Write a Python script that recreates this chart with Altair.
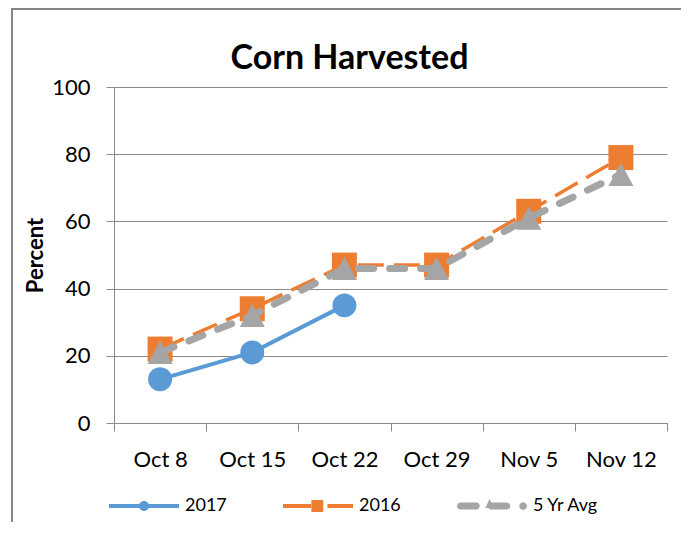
import altair as alt
import pandas as pd

weeks = ["Oct 8", "Oct 15", "Oct 22", "Oct 29", "Nov 5", "Nov 12"]
series_names = ["2017", "2016", "5 Yr Avg"]
pct_2017 = [13, 21, 35]
pct_2016 = [22, 34, 47, 47, 63, 79]
pct_avg = [21, 32, 46, 46, 61, 74]
colors = ["#5B9BD5", "#ED7D31", "#A5A5A5"]
y_ticks = [0, 20, 40, 60, 80, 100]

rows = []
for s, vals in zip(series_names, [pct_2017, pct_2016, pct_avg]):
    for w, v in zip(weeks, vals):
        rows.append({"week": w, "series": s, "pct": v})
df = pd.DataFrame(rows)


def pill(x0, x1, h=0.1):
    return (f"M{x0+h},{-h}L{x1-h},{-h}A{h},{h} 0 0,1 {x1-h},{h}"
            f"L{x0+h},{h}A{h},{h} 0 0,1 {x0+h},{-h}Z")


def circ(cx, r):
    return (f"M{cx-r},0A{r},{r} 0 1,1 {cx+r},0A{r},{r} 0 1,1 {cx-r},0Z")


def bar(x0, x1, h=0.057):
    return f"M{x0},{-h}L{x1},{-h}L{x1},{h}L{x0},{h}Z"


path_2017 = bar(-1, 1) + circ(0, 0.143)
path_2016 = bar(-1, -0.2) + "M-0.19,-0.17L0.15,-0.17L0.15,0.17L-0.19,0.17Z" + bar(0.27, 1)
path_avg = (pill(-1.0, -0.35) + pill(-0.12, 0.52)
            + "M-0.07,-0.2L0.05,0.06L-0.19,0.06Z" + circ(0.89, 0.11))
legend_paths = [path_2017, path_2016, path_avg]
tri_path = "M0,-0.93L1,0.93L-1,0.93Z"

GRAY = "#8a8a8a"
FONT = "Lato"

x_enc = alt.X(
    "week:O", sort=weeks,
    scale=alt.Scale(type="band", domain=weeks, paddingInner=0, paddingOuter=0),
    axis=alt.Axis(title=None, labelAngle=0, labelFont=FONT, labelFontSize=22,
                  labelColor="#000", labelBaseline="alphabetic", labelPadding=35,
                  tickSize=8, tickColor=GRAY, domainColor=GRAY, tickBand="extent",
                  grid=False),
)
y_enc = alt.Y(
    "pct:Q", scale=alt.Scale(domain=[0, 100], nice=False),
    axis=alt.Axis(values=y_ticks, title="Percent", titleFont=FONT, titleFontSize=22,
                  titleFontWeight="bold", titleColor="#000", titleX=-72, titleY=168,
                  titleAngle=270, titleBaseline="alphabetic",
                  labelFont=FONT, labelFontSize=22, labelColor="#000", labelPadding=16,
                  tickSize=8, tickColor=GRAY, domainColor=GRAY, gridColor=GRAY,
                  grid=True),
)

base = alt.Chart(df)

frame = alt.Chart(pd.DataFrame({"f": [0]})).mark_rect(
    fillOpacity=0, stroke="#878787", strokeWidth=2
).encode(x=alt.value(-102), x2=alt.value(569), y=alt.value(-78), y2=alt.value(700))


def series_layers(name, color, width, marker_shape, marker_size, dash=None, cap="butt"):
    line_kw = dict(color=color, strokeWidth=width, strokeCap=cap)
    if dash is not None:
        line_kw["strokeDash"] = dash
    f = base.transform_filter(alt.datum.series == name)
    line = f.mark_line(**line_kw).encode(x=x_enc, y=y_enc)
    pts = f.mark_point(filled=True, shape=marker_shape, size=marker_size, color=color,
                       opacity=1, strokeWidth=0).encode(x=x_enc, y=y_enc)
    return [line, pts]


layers = []
layers += series_layers("2017", colors[0], 4, "circle", 573)
layers += series_layers("2016", colors[1], 3.5, "square", 625, dash=[26, 10])
layers += series_layers("5 Yr Avg", colors[2], 7, tri_path, 625, dash=[15, 16], cap="round")

leg = alt.Legend(title=None, orient="none", legendX=-5, legendY=384, direction="horizontal",
                 symbolSize=4900, symbolStrokeWidth=0, symbolOpacity=1, labelFont=FONT,
                 labelFontSize=18, labelColor="#000", labelOffset=6, columnPadding=56,
                 padding=0)
legend_layer = base.mark_point(filled=True, opacity=0).encode(
    x=x_enc, y=y_enc,
    fill=alt.Fill("series:N", scale=alt.Scale(domain=series_names, range=colors), legend=leg),
    shape=alt.Shape("series:N", scale=alt.Scale(domain=series_names, range=legend_paths),
                    legend=leg),
)

chart = alt.layer(frame, *layers, legend_layer).properties(
    width=553, height=336,
    title=alt.TitleParams("Corn Harvested", font=FONT, fontSize=34, fontWeight="bold",
                          color="#000", anchor="middle", dx=-41, offset=0, dy=95,
                          baseline="alphabetic"),
    autosize=alt.AutoSizeParams(type="none"),
    padding={"left": 106, "top": 79, "right": 14, "bottom": 99},
).configure_view(stroke="transparent")

chart.save("out.html", embed_options={"renderer": "svg", "actions": False})
